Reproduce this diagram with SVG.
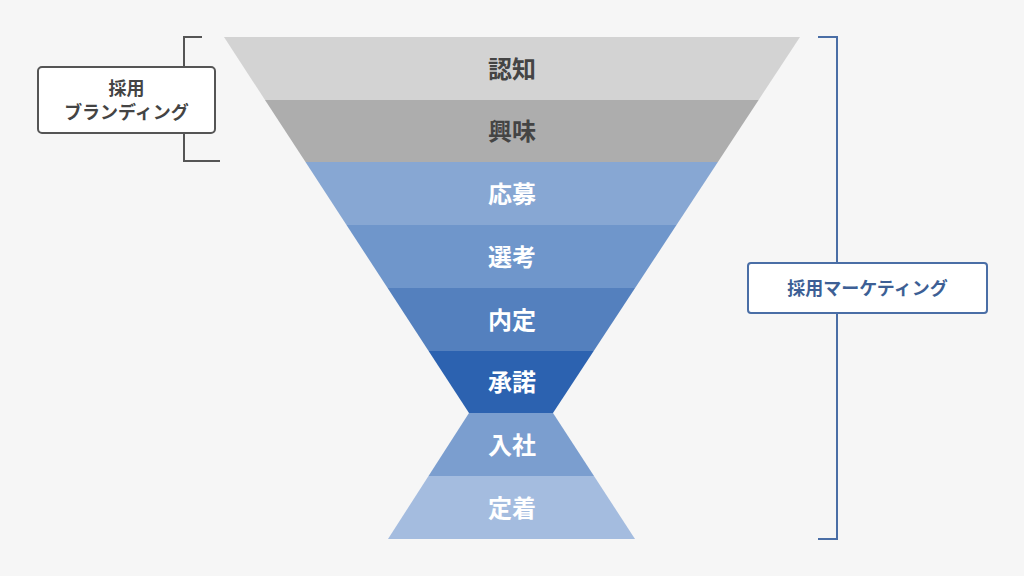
<svg xmlns="http://www.w3.org/2000/svg" width="1024" height="576" viewBox="0 0 1024 576">
<style>
  .lbl{font-family:"Noto Sans CJK JP","Noto Sans",sans-serif;font-weight:700;font-size:24px;text-anchor:middle;dominant-baseline:central}
  .dark{fill:#444444}
  .light{fill:#ffffff}
  .side{font-family:"Noto Sans CJK JP","Noto Sans",sans-serif;font-weight:700;font-size:18px;text-anchor:middle;dominant-baseline:central}
</style>
<rect width="1024" height="576" fill="#f6f6f6"/>
<g id="connectors" fill="none" stroke-width="2">
  <polyline points="202,37 184,37 184,161 220,161" stroke="#555555"/>
  <polyline points="818,37 837,37 837,539 818,539" stroke="#4a6ea6"/>
</g>
<g id="n-ninchi"><polygon points="224,37 800,37 758.6,100 265,100" fill="#d3d3d3"/><text class="lbl dark" x="512" y="67">認知</text></g>
<g id="n-kyomi"><polygon points="265,100 758.6,100 717.9,162 305.5,162" fill="#adadad"/><text class="lbl dark" x="512" y="129.5">興味</text></g>
<g id="n-oubo"><polygon points="305.5,162 717.9,162 676.5,225 346.5,225" fill="#87a7d3"/><text class="lbl light" x="512" y="192">応募</text></g>
<g id="n-senko"><polygon points="346.5,225 676.5,225 635.1,288 387.6,288" fill="#6f96cb"/><text class="lbl light" x="512" y="255">選考</text></g>
<g id="n-naitei"><polygon points="387.6,288 635.1,288 593.7,351 428.6,351" fill="#5480be"/><text class="lbl light" x="512" y="318">内定</text></g>
<g id="n-shodaku"><polygon points="428.6,351 593.7,351 553,413 469,413" fill="#2c62b0"/><text class="lbl light" x="512" y="380.5">承諾</text></g>
<g id="n-nyusha"><polygon points="469,413 553,413 594,476 428.5,476" fill="#7b9ecf"/><text class="lbl light" x="512" y="443">入社</text></g>
<g id="n-teichaku"><polygon points="428.5,476 594,476 635,539 388,539" fill="#a4bcdf"/><text class="lbl light" x="512" y="506">定着</text></g>
<g id="n-branding">
  <rect x="38" y="67" width="177" height="66" rx="4" fill="#ffffff" stroke="#555555" stroke-width="2"/>
  <text class="side" x="126.5" y="87" fill="#444444">採用</text>
  <text class="side" x="126.5" y="110.5" fill="#444444">ブランディング</text>
</g>
<g id="n-marketing">
  <rect x="748" y="263" width="239" height="50" rx="3" fill="#ffffff" stroke="#4a6ea6" stroke-width="2"/>
  <text class="side" x="867.5" y="287" fill="#3d5f95">採用マーケティング</text>
</g>
</svg>
